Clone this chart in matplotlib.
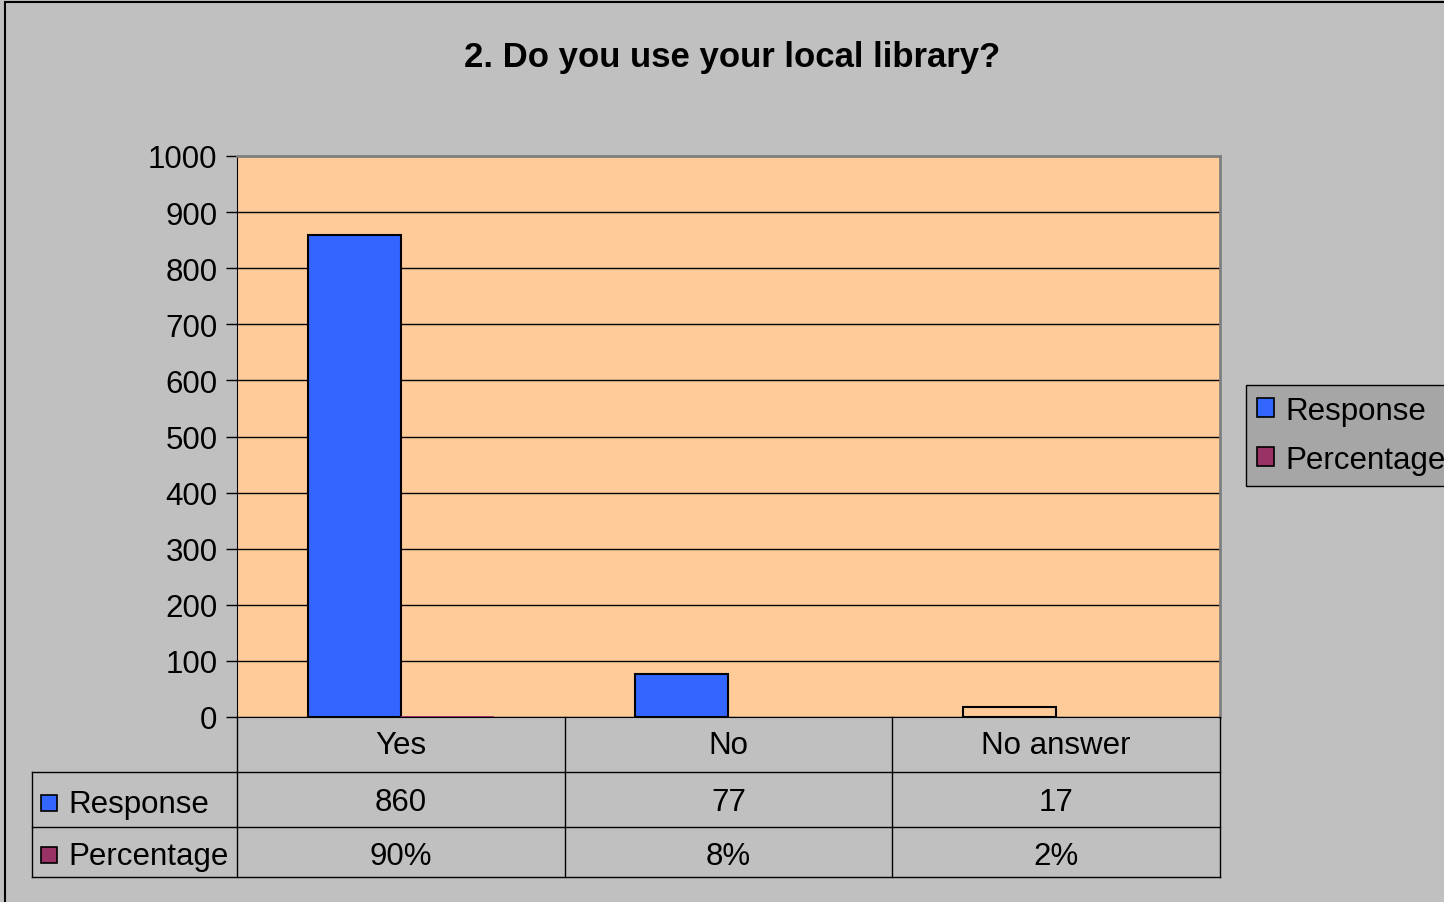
import numpy as np
import matplotlib.pyplot as plt
from matplotlib.patches import Rectangle
from matplotlib.lines import Line2D

categories = ['Yes', 'No', 'No answer']
response = [860, 77, 17]
percentage = [90, 8, 2]   # percent
series_names = ['Response', 'Percentage']
yticks = list(range(0, 1001, 100))

blue = '#3366FF'
plum = '#993366'
peach = '#FFCC99'
grey = '#C0C0C0'
fs = 22.5

plt.rcParams['font.family'] = ['Liberation Sans', 'DejaVu Sans']

fig = plt.figure(figsize=(14.44, 9.03), dpi=100, facecolor=grey)
W, H = 1444, 903

def fx(px):
    return px / W

def fy(py):
    return 1 - py / H

# outer chart border
fig.add_artist(Rectangle((fx(5), -0.05), 1.2, fy(3) + 0.05, transform=fig.transFigure,
                         fill=False, edgecolor='black', linewidth=1.5))

ax = fig.add_axes([fx(237), fy(718), fx(1220) - fx(237), fy(157) - fy(718)])
ax.set_facecolor(peach)

x = np.arange(len(categories))
bw = 0.284
# the tiny "No answer" bar shows in the plot area colour in the original
resp_colors = [blue, blue, peach]
ax.bar(x - bw / 2, response, bw, color=resp_colors, edgecolor='black', linewidth=1.5, zorder=3)
ax.bar(x + bw / 2, [p / 100 for p in percentage], bw, color=plum, linewidth=0, zorder=3)

ax.set_xlim(-0.5, len(categories) - 0.5)
ax.set_ylim(0, 1000)
ax.set_yticks(yticks)
ax.set_yticklabels([str(t) for t in yticks], fontsize=fs)
ax.tick_params(axis='y', direction='out', length=8, width=1, pad=6)
ax.set_xticks([])
ax.yaxis.grid(True, color='black', linewidth=1)
ax.set_axisbelow(True)
for side in ['top', 'right']:
    ax.spines[side].set_color('#808080')
    ax.spines[side].set_linewidth(2)
ax.spines['left'].set_color('black')
ax.spines['bottom'].set_color('black')

fig.text(fx(732), fy(57), '2. Do you use your local library?', fontsize=25, fontweight='bold',
         ha='center', va='center')

# data table below the plot
tr = fig.transFigure
lw = 1
def hline(y, x0, x1):
    fig.add_artist(Line2D([fx(x0), fx(x1)], [fy(y), fy(y)], transform=tr, color='black', lw=lw))

def vline(xp, y0, y1):
    fig.add_artist(Line2D([fx(xp), fx(xp)], [fy(y0), fy(y1)], transform=tr, color='black', lw=lw))

hline(773, 32, 1220)
hline(828, 32, 1220)
hline(878, 32, 1220)
vline(32, 773, 878)
vline(237, 718, 878)
for xp in [565, 892, 1220]:
    vline(xp, 718, 878)

xt = ax.get_xaxis_transform()
ax_h = 718 - 157
def ay(py):
    return -(py - 718) / ax_h

for i, c in enumerate(categories):
    ax.text(x[i], ay(746), c, transform=xt, ha='center', va='center', fontsize=fs, clip_on=False)
    ax.text(x[i], ay(803), str(response[i]), transform=xt, ha='center', va='center',
            fontsize=fs, clip_on=False)
    ax.text(x[i], ay(857), f'{percentage[i]}%', transform=xt, ha='center', va='center',
            fontsize=fs, clip_on=False)

for name, col, yc in [(series_names[0], blue, 804), (series_names[1], plum, 856)]:
    fig.add_artist(Rectangle((fx(41), fy(yc + 8)), fx(16), fy(yc - 8) - fy(yc + 8),
                             transform=tr, facecolor=col, edgecolor='black', lw=1.2))
    fig.text(fx(68), fy(yc + 1), name, ha='left', va='center', fontsize=fs)

# legend
handles = [Rectangle((0, 0), 1, 1, facecolor=blue, edgecolor='black', lw=1.2),
           Rectangle((0, 0), 1, 1, facecolor=plum, edgecolor='black', lw=1.2)]
leg = fig.legend(handles, series_names, loc='upper left', bbox_to_anchor=(fx(1246), fy(386)),
                 fontsize=fs, frameon=True, fancybox=False, borderaxespad=0,
                 handlelength=0.55, handleheight=0.55, handletextpad=0.35,
                 borderpad=0.35, labelspacing=0.6)
leg.get_frame().set_facecolor('#A6A6A6')
leg.get_frame().set_edgecolor('black')
leg.get_frame().set_alpha(1)

fig.savefig('out.png', dpi=100, facecolor=grey)
